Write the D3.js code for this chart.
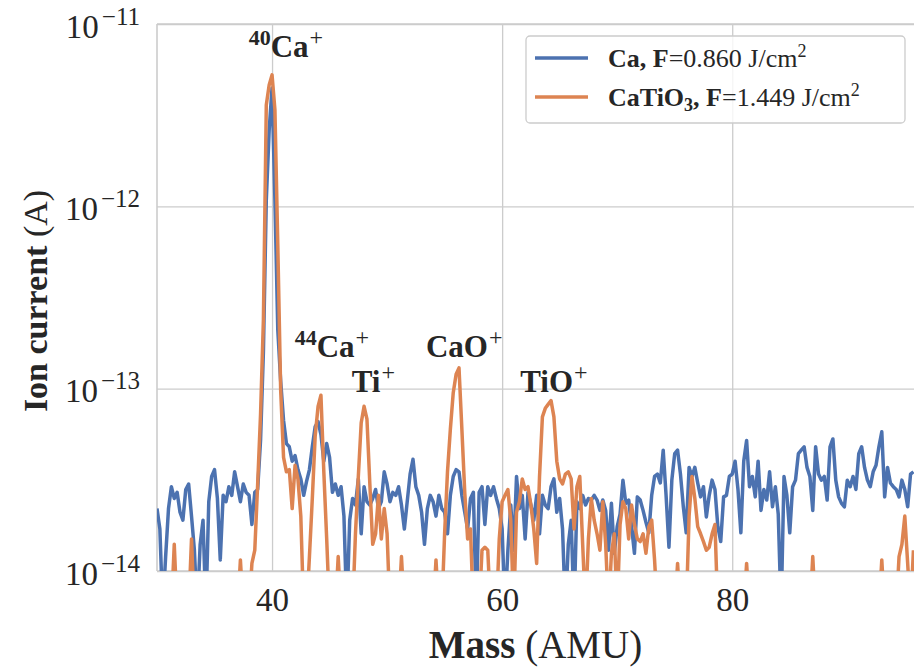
<!DOCTYPE html>
<html>
<head>
<meta charset="utf-8">
<script src="https://cdn.jsdelivr.net/npm/d3@7"></script>
<style>
  body { margin: 0; background: #fff; }
  svg { display: block; font-family: "Liberation Serif", "DejaVu Serif", serif; }
</style>
</head>
<body>
<div id="chart"></div>
<script>
/* DATA */
// spectra sampled every 0.25 AMU starting at 30 AMU, values in units of 1e-14 A
const massStart = 30, massStep = 0.25, UNIT = 1e-14;

const caCurrent = [
  2.2, 1.7, 0.6, 1.2,   // 30
  2.2, 2.9, 2.5, 2.7,   // 31
  2.1, 1.9, 2.8, 3.0,   // 32
  2.0, 1.3, 0.6, 1.4,   // 33
  1.9, 0.6, 2.4, 3.3,   // 34
  3.6, 2.5, 1.15, 2.6,  // 35
  2.4, 2.9, 2.6, 3.5,   // 36
  2.9, 2.4, 3.0, 2.7,   // 37
  2.6, 1.8, 2.7, 2.8,   // 38
  5.2, 16, 108, 262,    // 39
  446, 108, 21, 11,     // 40
  6.7, 5.0, 4.8, 4.0,   // 41
  4.3, 3.6, 3.2, 2.6,   // 42
  3.1, 3.6, 4.8, 6.2,   // 43
  6.6, 5.6, 4.0, 5.0,   // 44
  4.2, 2.7, 3.0, 2.6,   // 45
  2.9, 2.0, 0.6, 1.9,   // 46
  2.5, 2.3, 3.2, 1.6,   // 47
  2.9, 2.4, 2.3, 2.5,   // 48
  2.8, 2.2, 2.4, 3.5,   // 49
  3.0, 2.4, 2.7, 2.6,   // 50
  2.9, 2.3, 1.7, 2.4,   // 51
  3.4, 4.1, 2.9, 2.6,   // 52
  2.1, 1.4, 2.2, 2.6,   // 53
  2.4, 2.0, 2.6, 2.2,   // 54
  2.1, 1.6, 2.6, 3.3,   // 55
  3.6, 3.5, 2.6, 2.1,   // 56
  1.7, 2.5, 2.7, 0.6,   // 57
  2.7, 2.9, 1.8, 2.9,   // 58
  2.6, 2.9, 2.5, 2.2,   // 59
  1.7, 0.6, 1.3, 2.3,   // 60
  1.3, 3.3, 2.2, 2.6,   // 61
  1.5, 2.7, 2.3, 1.9,   // 62
  2.6, 1.6, 2.6, 2.3,   // 63
  2.2, 2.9, 3.2, 2.1,   // 64
  2.5, 1.7, 0.6, 1.4,   // 65
  1.9, 0.6, 2.4, 2.2,   // 66
  2.6, 2.3, 2.5, 2.45,  // 67
  2.6, 2.45, 2.15, 2.45, // 68
  2.15, 1.3, 2.35, 1.25, // 69
  1.75, 2.05, 3.15, 2.35, // 70
  2.45, 1.75, 1.25, 2.55, // 71
  2.45, 2.15, 1.85, 1.62, // 72
  2.6, 3.3, 3.4, 3.04,  // 73
  4.6, 2.6, 1.35, 3.15, // 74
  4.4, 4.6, 3.4, 2.25,  // 75
  1.62, 3.7, 3.3, 3.7,  // 76
  3.04, 2.55, 2.9, 1.98, // 77
  2.6, 3.15, 2.8, 1.75, // 78
  1.45, 2.55, 2.6, 3.3, // 79
  3.4, 4.0, 2.8, 1.62,  // 80
  4.0, 5.2, 2.9, 3.3,   // 81
  2.55, 4.0, 2.15, 2.8, // 82
  2.45, 3.5, 2.25, 2.9, // 83
  2.05, 0.6, 3.3, 2.6,  // 84
  1.62, 2.9, 3.15, 4.4, // 85
  4.6, 4.8, 3.7, 3.3,   // 86
  2.15, 4.8, 3.4, 3.15, // 87
  3.3, 2.45, 4.8, 5.3,  // 88
  3.15, 2.55, 2.35, 2.25, // 89
  3.15, 2.9, 3.3, 2.8,  // 90
  4.4, 4.8, 3.7, 3.15,  // 91
  2.9, 3.5, 3.8, 4.8,   // 92
  5.8, 2.55, 3.7, 3.04, // 93
  2.9, 2.8, 2.55, 3.15, // 94
  2.8, 2.25, 3.4, 3.5   // 95
];

const catio3Current = [
  0.6, 0.6, 0.6, 0.6,   // 30
  0.6, 0.6, 1.4, 0.6,   // 31
  0.6, 0.6, 0.6, 0.6,   // 32
  1.5, 0.6, 0.6, 0.6,   // 33
  0.6, 0.6, 0.6, 0.6,   // 34
  0.6, 0.6, 0.6, 0.6,   // 35
  0.6, 0.6, 0.6, 0.6,   // 36
  0.6, 1.15, 0.6, 0.6,  // 37
  0.6, 1.1, 1.3, 3.0,   // 38
  7.2, 24, 360, 463,    // 39
  526, 338, 61, 9.8,    // 40
  4.2, 3.5, 3.6, 2.2,   // 41
  3.8, 3.2, 2.0, 0.6,   // 42
  0.6, 1.2, 2.5, 5.5,   // 43
  8.0, 9.2, 3.5, 1.5,   // 44
  0.6, 0.6, 0.6, 1.2,   // 45
  0.6, 0.6, 0.6, 0.6,   // 46
  0.6, 1.6, 3.3, 6.5,   // 47
  8.0, 6.8, 3.0, 1.4,   // 48
  1.6, 2.6, 1.5, 2.2,   // 49
  1.6, 0.6, 0.6, 0.6,   // 50
  0.6, 1.2, 0.6, 0.6,   // 51
  0.6, 0.6, 0.6, 0.6,   // 52
  0.6, 0.6, 0.6, 0.6,   // 53
  0.6, 1.15, 0.6, 0.6,  // 54
  1.6, 3.5, 6.0, 9.5,   // 55
  12, 13, 6.0, 2.7,     // 56
  1.5, 1.7, 0.6, 0.6,   // 57
  0.6, 1.3, 1.35, 1.3,  // 58
  0.6, 0.6, 0.6, 1.5,   // 59
  2.4, 2.6, 2.8, 1.9,   // 60
  0.6, 2.1, 2.4, 3.2,   // 61
  2.8, 2.9, 2.3, 1.7,   // 62
  1.1, 3.3, 7.0, 7.8,   // 63
  8.2, 8.6, 7.0, 4.0,   // 64
  3.2, 3.0, 3.4, 3.5,   // 65
  3.2, 1.7, 2.9, 3.3,   // 66
  1.4, 0.6, 1.5, 2.5,   // 67
  1.9, 1.6, 1.3, 2.4,   // 68
  1.4, 0.6, 1.25, 1.6,  // 69
  0.6, 1.8, 2.4, 2.2,   // 70
  1.5, 2.3, 1.8, 1.5,   // 71
  1.45, 1.6, 1.25, 1.75, // 72
  1.9, 1.15, 0.6, 0.6,  // 73
  0.6, 0.6, 0.6, 0.6,   // 74
  0.6, 1.1, 0.6, 0.6,   // 75
  0.6, 2.0, 3.3, 2.5,   // 76
  1.75, 1.6, 1.45, 1.3, // 77
  1.35, 1.6, 1.8, 0.6,  // 78
  0.6, 0.6, 0.6, 0.6,   // 79
  0.6, 0.6, 0.6, 0.6,   // 80
  0.6, 1.1, 0.6, 0.6,   // 81
  0.6, 0.6, 0.6, 0.6,   // 82
  0.6, 0.6, 0.6, 0.6,   // 83
  0.6, 0.6, 0.6, 0.6,   // 84
  0.6, 0.6, 0.6, 0.6,   // 85
  0.6, 0.6, 0.6, 0.6,   // 86
  1.2, 0.6, 0.6, 0.6,   // 87
  0.6, 0.6, 0.6, 0.6,   // 88
  0.6, 0.6, 0.6, 0.6,   // 89
  0.6, 0.6, 0.6, 0.6,   // 90
  0.6, 0.6, 0.6, 0.6,   // 91
  0.6, 0.6, 0.6, 0.6,   // 92
  1.15, 0.6, 0.6, 0.6,  // 93
  0.6, 0.6, 1.2, 1.4,   // 94
  2.0, 1.1, 0.6, 1.3    // 95
];

const xTicks = [40, 60, 80];
const yTicks = [1e-14, 1e-13, 1e-12, 1e-11];
const yTickExp = ["\u221214", "\u221213", "\u221212", "\u221211"];

// peak annotations, placed in data coordinates
const peakMass = [41.2, 45.2, 48.8, 56.7, 64.5];
const peakLevel = [6.6e-12, 1.5e-13, 9.6e-14, 1.5e-13, 9.6e-14];
const peakIsotope = ["40", "44", "", "", ""];
const peakSpecies = ["Ca", "Ca", "Ti", "CaO", "TiO"];

const seriesColors = ["#4c72b0", "#dd8452"];

/* CONSTANTS */
const width = 914, height = 668,
  margin = { top: 24, bottom: 97, left: 157, right: 0 };
const ink = "#262626", gridColor = "#cccccc";

const xScale = d3.scaleLinear()
  .domain([30, 95.8])
  .range([margin.left, width - margin.right]);

const yScale = d3.scaleLog()
  .domain([1e-14, 1e-11])
  .range([height - margin.bottom, margin.top]);

const svg = d3.select("#chart").append("svg")
  .attr("width", width)
  .attr("height", height);

// GRID + AXES
const xAxis = d3.axisBottom(xScale)
  .tickValues(xTicks)
  .tickSize(-(height - margin.bottom - margin.top))
  .tickPadding(17);

const gx = svg.append("g")
  .attr("transform", `translate(0, ${height - margin.bottom})`)
  .call(xAxis);
gx.select(".domain").remove();
gx.selectAll("line").attr("stroke", gridColor).attr("stroke-width", 1.3);
gx.selectAll("text")
  .attr("fill", ink)
  .attr("font-size", 33)
  .attr("font-family", "Liberation Serif");

const yAxis = d3.axisLeft(yScale)
  .tickValues(yTicks)
  .tickFormat("")
  .tickSize(-(width - margin.left - margin.right))
  .tickPadding(17);

const gy = svg.append("g")
  .attr("transform", `translate(${margin.left}, 0)`)
  .call(yAxis);
gy.select(".domain").remove();
gy.selectAll("line").attr("stroke", gridColor).attr("stroke-width", 1.3);
gy.selectAll("text").each(function(d, i) {
  const t = d3.select(this)
    .attr("fill", ink)
    .attr("font-family", "Liberation Serif")
    .attr("dy", 13);
  t.append("tspan").attr("font-size", 33).text("10");
  t.append("tspan").attr("font-size", 25).attr("dx", 3).attr("dy", -13).text(yTickExp[i]);
});

// spines (left + bottom, seaborn whitegrid style)
svg.append("line")
  .attr("x1", margin.left).attr("x2", margin.left)
  .attr("y1", margin.top).attr("y2", height - margin.bottom)
  .attr("stroke", gridColor).attr("stroke-width", 1.6);
svg.append("line")
  .attr("x1", margin.left).attr("x2", width)
  .attr("y1", height - margin.bottom).attr("y2", height - margin.bottom)
  .attr("stroke", gridColor).attr("stroke-width", 1.6);
svg.append("line")
  .attr("x1", margin.left).attr("x2", width)
  .attr("y1", margin.top).attr("y2", margin.top)
  .attr("stroke", gridColor).attr("stroke-width", 1.6);

// LINES
svg.append("clipPath").attr("id", "plot-clip")
  .append("rect")
  .attr("x", margin.left).attr("y", margin.top)
  .attr("width", width - margin.left - margin.right)
  .attr("height", height - margin.bottom - margin.top);

const line = d3.line()
  .x((d, i) => xScale(massStart + i * massStep))
  .y(d => yScale(d * UNIT));

const plot = svg.append("g").attr("clip-path", "url(#plot-clip)");
[caCurrent, catio3Current].forEach((series, k) => {
  plot.append("path")
    .datum(series)
    .attr("fill", "none")
    .attr("stroke", seriesColors[k])
    .attr("stroke-width", 3.5)
    .attr("stroke-linejoin", "round")
    .attr("d", line);
});

// PEAK LABELS
peakMass.forEach((m, i) => {
  const t = svg.append("text")
    .attr("x", xScale(m))
    .attr("y", yScale(peakLevel[i]))
    .attr("text-anchor", "middle")
    .attr("font-weight", "bold")
    .attr("fill", ink);
  let shift = 0;
  if (peakIsotope[i]) {
    t.append("tspan").attr("font-size", 22).attr("dy", -12).text(peakIsotope[i]);
    shift = 12;
  }
  t.append("tspan").attr("font-size", 31).attr("dy", shift).text(peakSpecies[i]);
  t.append("tspan").attr("font-size", 24).attr("font-weight", "normal").attr("dx", 1).attr("dy", -12).text("+");
});

// LEGEND
const legend = svg.append("g");
legend.append("rect")
  .attr("x", 526).attr("y", 36)
  .attr("width", 379).attr("height", 87)
  .attr("rx", 4)
  .attr("fill", "white").attr("fill-opacity", 0.8)
  .attr("stroke", gridColor).attr("stroke-width", 1.3);

const legendRows = [
  { name: "Ca", sub: "", fluence: "0.860" },
  { name: "CaTiO", sub: "3", fluence: "1.449" }
];
legendRows.forEach((r, i) => {
  const yy = 58 + i * 39;
  legend.append("line")
    .attr("x1", 535).attr("x2", 588)
    .attr("y1", yy).attr("y2", yy)
    .attr("stroke", seriesColors[i]).attr("stroke-width", 3.5);
  const t = legend.append("text")
    .attr("x", 608).attr("y", yy + 9)
    .attr("font-size", 26)
    .attr("fill", ink);
  t.append("tspan").attr("font-weight", "bold").text(r.name);
  if (r.sub) {
    t.append("tspan").attr("font-weight", "bold").attr("font-size", 18).attr("dy", 5).text(r.sub);
    t.append("tspan").attr("font-weight", "bold").attr("dy", -5).text(", F");
  } else {
    t.append("tspan").attr("font-weight", "bold").text(", F");
  }
  t.append("tspan").text("=" + r.fluence + " J/cm");
  t.append("tspan").attr("font-size", 18).attr("dy", -10).text("2");
});

// AXIS LABELS
const xl = svg.append("text")
  .attr("x", (margin.left + width) / 2)
  .attr("y", 658)
  .attr("text-anchor", "middle")
  .attr("font-size", 39)
  .attr("fill", ink);
xl.append("tspan").attr("font-weight", "bold").text("Mass");
xl.append("tspan").text(" (AMU)");

const yl = svg.append("text")
  .attr("transform", "translate(47, 301) rotate(-90)")
  .attr("text-anchor", "middle")
  .attr("font-size", 34)
  .attr("fill", ink);
yl.append("tspan").attr("font-weight", "bold").text("Ion current");
yl.append("tspan").text(" (A)");
</script>
</body>
</html>
